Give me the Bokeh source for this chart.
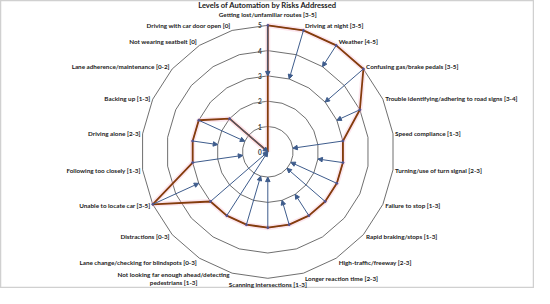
import math
from bokeh.plotting import figure
from bokeh.models import ColumnDataSource, Range1d, Arrow, NormalHead, Label
from bokeh.core.properties import value
from bokeh.embed import file_html
from bokeh.resources import INLINE

# ---------------- data ----------------
categories = [
    "Getting lost/unfamiliar routes [3-5]",
    "Driving at night [3-5]",
    "Weather [4-5]",
    "Confusing gas/brake pedals [3-5]",
    "Trouble identifying/adhering to road signs [3-4]",
    "Speed compliance [1-3]",
    "Turning/use of turn signal [2-3]",
    "Failure to stop [1-3]",
    "Rapid braking/stops [1-3]",
    "High-traffic/freeway [2-3]",
    "Longer reaction time [2-3]",
    "Scanning intersections [1-3]",
    "Not looking far enough ahead/detecting\npedestrians [1-3]",
    "Lane change/checking for blindspots [0-3]",
    "Distractions [0-3]",
    "Unable to locate car [3-5]",
    "Following too closely [1-3]",
    "Driving alone [2-3]",
    "Backing up [1-3]",
    "Lane adherence/maintenance [0-2]",
    "Not wearing seatbelt [0]",
    "Driving with car door open [0]",
]
max_level = [5, 5, 5, 5, 4, 3, 3, 3, 3, 3, 3, 3, 3, 3, 3, 5, 3, 3, 3, 2, 0, 0]
min_level = [3, 3, 4, 3, 3, 1, 2, 1, 1, 2, 2, 1, 1, 0, 0, 3, 1, 2, 1, 0, 0, 0]
ring_levels = [1, 2, 3, 4, 5]
tick_labels = ["0", "1", "2", "3", "4", "5"]
title_text = "Levels of Automation by Risks Addressed"

# ---------------- layout ----------------
W, H = 534, 288
U = 25.3            # pixels per level
CX, CY = 267.3, 151.3  # centre of radar inside figure (px from left / top)

n = len(categories)
theta = [2 * math.pi * i / n for i in range(n)]

p = figure(width=W, height=H, output_backend="svg", toolbar_location=None,
           x_range=Range1d(-CX / U, (W - CX) / U),
           y_range=Range1d(-(H - CY) / U, CY / U),
           min_border=0, match_aspect=False)
p.axis.visible = False
p.grid.visible = False
p.outline_line_color = "#d0d0d0"
p.outline_line_width = 1.5
p.background_fill_color = "white"
p.border_fill_color = "white"

# grid rings
rx, ry = [], []
for r in ring_levels:
    rx.append([r * math.sin(t) for t in theta + [theta[0]]])
    ry.append([r * math.cos(t) for t in theta + [theta[0]]])
p.multi_line(rx, ry, line_color="#4a4a4a", line_width=0.8)

# tick labels on top spoke
p.text(x=[0] * len(tick_labels), y=list(range(len(tick_labels))), text=tick_labels,
       x_offset=-8, text_align="center", text_baseline="middle",
       text_font=value("Lato"), text_font_style="bold", text_font_size="6.5px",
       text_color="#404040")

# max polygon
px_ = [m * math.sin(t) for m, t in zip(max_level, theta)] + [max_level[0] * math.sin(theta[0])]
py_ = [m * math.cos(t) for m, t in zip(max_level, theta)] + [max_level[0] * math.cos(theta[0])]
p.line(px_, py_, line_color="#f7b8cf", line_width=5, line_alpha=0.35)
p.line(px_, py_, line_color="#843C0C", line_width=1.8)

# arrows from max to min
xs, ys, xe, ye = [], [], [], []
for mx, mn, t in zip(max_level, min_level, theta):
    if mx == mn:
        continue
    xs.append(mx * math.sin(t)); ys.append(mx * math.cos(t))
    xe.append(mn * math.sin(t)); ye.append(mn * math.cos(t))
asrc = ColumnDataSource(dict(xs=xs, ys=ys, xe=xe, ye=ye))
acol = "#3E5C8C"
p.add_layout(Arrow(source=asrc, x_start="xs", y_start="ys", x_end="xe", y_end="ye",
                   line_color=acol, line_width=1,
                   end=NormalHead(size=4.5, fill_color=acol, line_color=acol)))
p.scatter(xs, ys, size=2, color="#5a5290")

# category labels
lx, ly, la, lb, lxo = [], [], [], [], []
for lab, t in zip(categories, theta):
    s, c = math.sin(t), math.cos(t)
    if abs(s) < 0.01:
        r = 5.3 if c > 0 else 5.1
        la.append("center")
        lb.append("bottom" if c > 0 else "top")
        lxo.append(0)
    else:
        r = 5.08 + 0.14 * c * c
        lb.append("middle")
        lines = lab.split("\n")
        if len(lines) > 1:
            la.append("center")
            half = max(len(l) for l in lines) * 3.0 / 2
            lxo.append(half if s > 0 else -half)
        else:
            la.append("left" if s > 0 else "right")
            lxo.append(0)
    lx.append(r * s)
    ly.append(r * c)
lsrc = ColumnDataSource(dict(x=lx, y=ly, text=categories, align=la, base=lb, xo=lxo))
p.text(x="x", y="y", text="text", source=lsrc, text_align="align", text_baseline="base",
       x_offset="xo", text_font=value("Lato"), text_font_style="bold",
       text_font_size="6.3px", text_color="#1a1a1a", text_line_height=1.1)

# title
p.add_layout(Label(x=W / 2, y=H - 4.5, x_units="screen", y_units="screen", text=title_text,
                   text_align="center", text_baseline="middle", text_font="Lato",
                   text_font_style="bold", text_font_size="7.6px", text_color="#1a1a1a"))

open("out.html", "w").write(file_html(p, INLINE))
